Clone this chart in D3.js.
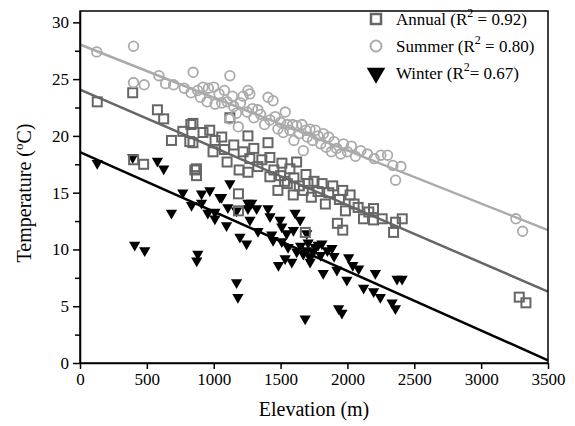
<!DOCTYPE html>
<html>
<head>
<meta charset="utf-8">
<script src="https://cdn.jsdelivr.net/npm/d3@7"></script>
<style>
  body { margin: 0; background: #fff; }
  text { font-family: "Liberation Serif", "Times New Roman", serif; }
</style>
</head>
<body>
<div id="chart"></div>
<script>
// elevation (m), temperature (°C)
const annual = [
  [129, 23.0], [394, 23.8], [401, 17.9], [476, 17.5], [579, 22.3], [626, 21.5], [684, 19.6],
  [769, 20.4], [821, 19.5], [829, 21.0], [845, 21.1], [845, 19.4], [859, 17.0], [871, 17.1],
  [871, 16.5], [920, 20.3], [970, 20.5], [995, 18.6], [1010, 19.6], [1060, 19.9], [1080, 18.8],
  [1100, 17.7], [1121, 21.6], [1150, 19.2], [1185, 14.9], [1185, 13.4], [1190, 17.0], [1220, 18.6],
  [1256, 20.0], [1256, 16.8], [1270, 18.0], [1300, 18.9], [1330, 17.3], [1360, 17.9], [1406, 19.4],
  [1420, 18.1], [1420, 16.4], [1450, 17.0], [1480, 15.2], [1500, 16.5], [1510, 17.6], [1530, 16.0],
  [1550, 15.8], [1570, 17.1], [1595, 14.8], [1600, 16.3], [1620, 17.7], [1640, 15.6], [1670, 15.2],
  [1685, 11.5], [1690, 16.6], [1705, 15.8], [1730, 14.6], [1750, 16.0], [1780, 15.1], [1810, 15.8],
  [1835, 14.0], [1860, 15.0], [1890, 15.6], [1925, 12.3], [1940, 14.4], [1965, 15.2], [1965, 11.7],
  [1985, 13.4], [2020, 14.8], [2050, 14.0], [2080, 13.7], [2120, 12.7], [2160, 13.3], [2195, 13.6],
  [2195, 12.6], [2260, 12.7], [2345, 11.5], [2360, 12.4], [2410, 12.7], [3285, 5.8], [3335, 5.3]
];
const summer = [
  [125, 27.4], [400, 27.9], [400, 24.7], [480, 24.5], [590, 25.3], [640, 24.6], [700, 24.5],
  [780, 24.2], [830, 23.8], [846, 25.6], [880, 24.0], [900, 23.4], [920, 24.3], [950, 23.0],
  [960, 24.2], [1000, 24.3], [1010, 22.8], [1040, 23.7], [1060, 22.9], [1080, 24.0], [1100, 23.0],
  [1120, 21.5], [1121, 25.3], [1140, 23.5], [1150, 22.6], [1170, 22.0], [1184, 20.8], [1200, 22.9],
  [1220, 23.5], [1250, 22.1], [1256, 24.0], [1270, 23.7], [1290, 22.4], [1300, 21.6], [1330, 22.3],
  [1350, 21.9], [1380, 21.0], [1406, 23.4], [1420, 21.4], [1444, 23.1], [1460, 21.7], [1480, 20.6],
  [1500, 21.2], [1520, 20.3], [1535, 22.1], [1550, 21.0], [1570, 20.5], [1590, 21.0], [1600, 19.6],
  [1620, 20.9], [1640, 20.2], [1660, 21.0], [1670, 18.7], [1690, 20.5], [1700, 19.9], [1720, 20.6],
  [1740, 19.6], [1760, 20.5], [1780, 20.0], [1800, 19.3], [1820, 20.2], [1840, 19.0], [1860, 19.9],
  [1880, 18.6], [1900, 19.5], [1920, 18.9], [1950, 18.4], [1970, 19.3], [2000, 18.6], [2030, 19.1],
  [2060, 18.2], [2100, 18.7], [2150, 18.4], [2200, 18.0], [2250, 18.3], [2300, 18.3], [2340, 17.4],
  [2360, 16.1], [2400, 17.3], [3260, 12.7], [3310, 11.6]
];
const winter = [
  [129, 17.6], [394, 18.1], [409, 10.4], [484, 9.9], [579, 17.8], [626, 17.1], [684, 13.2],
  [769, 15.0], [834, 13.9], [873, 9.0], [881, 9.6], [909, 14.1], [909, 14.9], [956, 13.2],
  [971, 15.2], [1009, 13.3], [1009, 12.7], [1046, 14.6], [1059, 14.6], [1096, 12.1], [1106, 13.7],
  [1121, 15.8], [1171, 13.4], [1171, 7.1], [1181, 5.8], [1196, 11.1], [1246, 10.5], [1256, 14.1],
  [1256, 13.6], [1271, 12.6], [1284, 14.1], [1321, 13.6], [1331, 11.6], [1406, 13.6], [1421, 12.9],
  [1434, 11.3], [1444, 10.8], [1484, 8.6], [1496, 12.6], [1509, 12.0], [1509, 10.7], [1534, 9.2],
  [1546, 11.4], [1556, 10.2], [1584, 8.9], [1596, 11.7], [1609, 13.2], [1621, 9.8], [1646, 12.6],
  [1650, 10.3], [1670, 9.6], [1684, 3.9], [1696, 11.4], [1696, 9.9], [1706, 10.6], [1721, 8.9],
  [1721, 9.3], [1744, 9.8], [1760, 10.2], [1781, 10.4], [1800, 9.5], [1809, 10.5], [1819, 7.9],
  [1850, 9.9], [1884, 10.1], [1900, 9.4], [1921, 8.2], [1934, 4.8], [1959, 4.4], [1996, 7.3],
  [2009, 9.3], [2040, 8.6], [2084, 8.3], [2121, 6.6], [2196, 6.3], [2209, 7.9], [2246, 5.8],
  [2334, 5.3], [2359, 4.8], [2371, 7.4], [2409, 7.4]
];
// fitted lines: intercept, slope per m
const fitAnnual = [24.07, -0.00508];
const fitSummer = [28.05, -0.00467];
const fitWinter = [18.58, -0.00524];
const legendLabels = ['Annual (R', 'Summer (R', 'Winter (R'];
const legendTails = [' = 0.92)', ' = 0.80)', '= 0.67)'];

const width = 575, height = 426;
const margin = {left: 80, right: 27, top: 11, bottom: 63};

const svg = d3.select('#chart').append('svg')
    .attr('width', width)
    .attr('height', height);

const x = d3.scaleLinear().domain([0, 3500]).range([margin.left, width - margin.right]);
const y = d3.scaleLinear().domain([0, 31]).range([height - margin.bottom, margin.top]);

const dark = '#666666', light = '#aaaaaa';

// regression lines
const line = d3.line().x(d => x(d[0])).y(d => y(d[1]));
function fitLine(f, color) {
    svg.append('path')
        .datum([[0, f[0]], [3500, f[0] + f[1] * 3500]])
        .attr('d', line)
        .attr('fill', 'none')
        .attr('stroke', color)
        .attr('stroke-width', 2.5);
}

const tri = d3.symbol().type(d3.symbolTriangle).size(55);

// markers
svg.append('g').selectAll('path').data(winter).join('path')
    .attr('d', tri)
    .attr('transform', d => `translate(${x(d[0])},${y(d[1])}) rotate(180)`)
    .attr('fill', '#000');

svg.append('g').selectAll('rect').data(annual).join('rect')
    .attr('x', d => x(d[0]) - 4.5)
    .attr('y', d => y(d[1]) - 4.5)
    .attr('width', 9)
    .attr('height', 9)
    .attr('fill', 'none')
    .attr('stroke', dark)
    .attr('stroke-width', 2);

svg.append('g').selectAll('circle').data(summer).join('circle')
    .attr('cx', d => x(d[0]))
    .attr('cy', d => y(d[1]))
    .attr('r', 4.8)
    .attr('fill', 'none')
    .attr('stroke', light)
    .attr('stroke-width', 1.8);

fitLine(fitSummer, light);
fitLine(fitAnnual, dark);
fitLine(fitWinter, '#000');

// frame
svg.append('rect')
    .attr('x', margin.left)
    .attr('y', margin.top)
    .attr('width', width - margin.right - margin.left)
    .attr('height', height - margin.bottom - margin.top)
    .attr('fill', 'none')
    .attr('stroke', '#000')
    .attr('stroke-width', 1.5);

// axes
const xAxis = svg.append('g')
    .attr('transform', `translate(0,${height - margin.bottom})`)
    .call(d3.axisBottom(x).tickValues(d3.range(0, 3501, 500)).tickFormat(d3.format('d'))
        .tickSize(6).tickPadding(4).tickSizeOuter(0));

const yAxis = svg.append('g')
    .attr('transform', `translate(${margin.left},0)`)
    .call(d3.axisLeft(y).tickValues(d3.range(0, 31, 2.5)).tickSize(7).tickPadding(4).tickSizeOuter(0)
        .tickFormat(d => d % 5 === 0 ? d : ''));

yAxis.selectAll('.tick line').filter(d => d % 5 !== 0).attr('x2', -5);

[xAxis, yAxis].forEach(a => {
    a.select('.domain').attr('stroke-width', 1.5);
    a.selectAll('.tick line').attr('stroke-width', 1.5);
    a.selectAll('text').attr('font-size', 17).attr('fill', '#000')
        .style('font-family', '"Liberation Serif", serif');
});

// axis titles
svg.append('text')
    .attr('x', (x(0) + x(3500)) / 2)
    .attr('y', 416)
    .attr('text-anchor', 'middle')
    .attr('font-size', 20)
    .text('Elevation (m)');

const yt = svg.append('text')
    .attr('transform', `translate(31,${(y(0) + y(31)) / 2 + 6}) rotate(-90)`)
    .attr('text-anchor', 'middle')
    .attr('font-size', 20);
yt.append('tspan').text('Temperature (');
yt.append('tspan').attr('font-size', 13).attr('dy', -8).text('o');
yt.append('tspan').attr('dy', 8).text('C)');

// legend
const lg = svg.append('g');
const rowY = [19, 46, 73];
lg.append('rect').attr('x', 371).attr('y', rowY[0] - 5).attr('width', 10).attr('height', 10)
    .attr('fill', 'none').attr('stroke', dark).attr('stroke-width', 2.5);
lg.append('circle').attr('cx', 376).attr('cy', rowY[1]).attr('r', 5.5)
    .attr('fill', 'none').attr('stroke', light).attr('stroke-width', 2);
lg.append('path').attr('d', d3.symbol().type(d3.symbolTriangle).size(150))
    .attr('transform', `translate(376,${rowY[2]}) rotate(180)`).attr('fill', '#000');

legendLabels.forEach((lab, i) => {
    const t = lg.append('text')
        .attr('x', 396)
        .attr('y', rowY[i] + 6)
        .attr('font-size', 17);
    t.append('tspan').text(lab);
    t.append('tspan').attr('font-size', 12).attr('dy', -8).text('2');
    t.append('tspan').attr('dy', 8).text(legendTails[i]);
});
</script>
</body>
</html>
